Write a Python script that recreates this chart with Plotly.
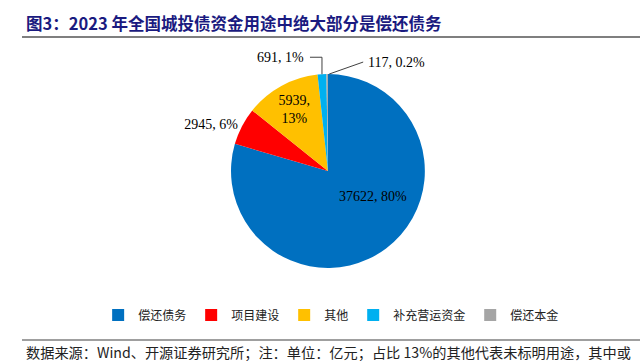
import math
import plotly.graph_objects as go

labels = ["偿还债务", "项目建设", "其他", "补充营运资金", "偿还本金"]
values = [37622, 2945, 5939, 691, 117]
pct_text = ["80%", "6%", "13%", "1%", "0.2%"]
colors = ["#0070C0", "#FF0000", "#FFC000", "#00B0F0", "#A5A5A5"]

title = "图3：2023 年全国城投债资金用途中绝大部分是偿还债务"
footer = "数据来源：Wind、开源证券研究所；注：单位：亿元；占比 13%的其他代表未标明用途，其中或"

W, H = 643, 363
DOM_X = [0.359, 0.661]
DOM_Y = [0.262, 0.796]

texts = []
for v, p in zip(values, pct_text):
    texts.append(f"{v},<br>{p}" if p == "13%" else f"{v}, {p}")

# labels placed as annotations relative to the pie (offsets in px from anchor point)
callout = {0: dict(dx=45, dy=26, anchor="center", line=None, from_center=True),
           3: dict(dx=-16, dy=-17, anchor="right", line="elbow", from_center=False),
           4: dict(dx=39, dy=-12, anchor="left", line="straight", from_center=False)}

positions = ["none", "outside", "inside", "none", "none"]
pie_text = [t if positions[i] != "none" else "" for i, t in enumerate(texts)]

fig = go.Figure(go.Pie(
    labels=labels, values=values, text=pie_text,
    textinfo="text", sort=False, direction="clockwise", rotation=0,
    marker=dict(colors=colors, line=dict(color="white", width=0)),
    textposition=positions,
    insidetextorientation="horizontal",
    textfont=dict(family="Liberation Serif", size=14, color="#000000"),
    outsidetextfont=dict(family="Liberation Serif", size=14, color="#000000"),
    domain=dict(x=DOM_X, y=DOM_Y),
    hoverinfo="label+value+percent",
))

# pie geometry in pixels (derived from domain)
cx = (DOM_X[0] + DOM_X[1]) / 2 * W
cy = (1 - (DOM_Y[0] + DOM_Y[1]) / 2) * H
R = min((DOM_X[1] - DOM_X[0]) * W, (DOM_Y[1] - DOM_Y[0]) * H) / 2

def px(x):
    return x / W

def py(y):
    return 1 - y / H

total = sum(values)
annotations = []
shapes = []
cum = 0
for i, v in enumerate(values):
    mid = (cum + v / 2) / total
    cum += v
    if i not in callout:
        continue
    c = callout[i]
    if c["from_center"]:
        ex, ey = cx, cy
    else:
        th = 2 * math.pi * mid
        ex = cx + R * math.sin(th)
        ey = cy - R * math.cos(th)
    tx, ty = ex + c["dx"], ey + c["dy"]
    if c["line"] == "elbow":
        path = f"M {px(ex)} {py(ey)} L {px(ex)} {py(ty)} L {px(tx + 4)} {py(ty)}"
    elif c["line"] == "straight":
        path = f"M {px(ex + 2)} {py(ey)} L {px(tx - 3)} {py(ty)}"
    else:
        path = None
    if path:
        shapes.append(dict(type="path", xref="paper", yref="paper", path=path,
                           line=dict(color="#404040", width=1)))
    annotations.append(dict(text=texts[i], x=px(tx), y=py(ty), xref="paper", yref="paper",
                            xanchor=c["anchor"], yanchor="middle", showarrow=False,
                            font=dict(family="Liberation Serif", size=14, color="#000000")))

annotations += [
    dict(text=f"<b>{title}</b>", x=px(24), y=py(23), xref="paper", yref="paper",
         xanchor="left", yanchor="middle", showarrow=False,
         font=dict(family="Noto Sans CJK SC", size=16.5, color="#1A1A80")),
    dict(text=footer, x=px(24), y=py(352), xref="paper", yref="paper",
         xanchor="left", yanchor="middle", showarrow=False,
         font=dict(family="Noto Sans CJK SC", size=14.2, color="#222222")),
]
shapes += [
    dict(type="line", xref="paper", yref="paper", x0=px(22), x1=px(640),
         y0=py(37), y1=py(37), line=dict(color="#7F7F7F", width=2)),
    dict(type="line", xref="paper", yref="paper", x0=px(22), x1=px(640),
         y0=py(340), y1=py(340), line=dict(color="#7F7F7F", width=1.5)),
]

fig.update_layout(
    width=W, height=H,
    margin=dict(l=0, r=0, t=0, b=0),
    paper_bgcolor="white", plot_bgcolor="white",
    showlegend=True,
    legend=dict(orientation="h", x=0.515, xanchor="center", y=py(315), yanchor="middle",
                font=dict(family="Noto Sans CJK SC", size=12, color="#222222"),
                itemwidth=30, traceorder="normal"),
    annotations=annotations,
    shapes=shapes,
)

fig.write_html("out.html", config={"displayModeBar": False},
               post_script="document.body.style.margin='0';")
